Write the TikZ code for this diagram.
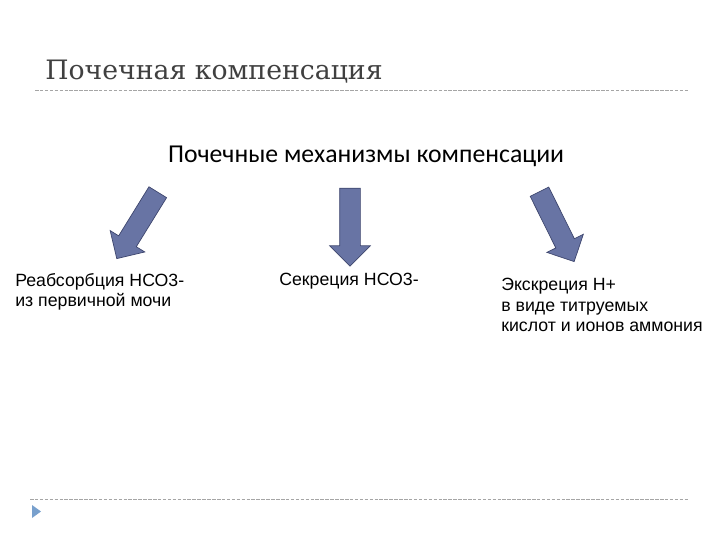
\documentclass[tikz,border=0pt]{standalone}
\usepackage{fontspec}
\setmainfont{Liberation Sans}
\newfontfamily\titlefont{DejaVu Serif}
\newfontfamily\subfont{Carlito}
\usetikzlibrary{shapes.arrows}
\definecolor{arrowblue}{RGB}{104, 116, 164}
\definecolor{arrowline}{RGB}{62, 70, 110}
\definecolor{titlegray}{RGB}{64, 64, 64}
\definecolor{rulegray}{RGB}{165, 165, 165}
\definecolor{bulletblue}{RGB}{120, 160, 205}

\begin{document}
\begin{tikzpicture}[x=0.025cm, y=-0.025cm]
            \tikzstyle{bigarrow} = [single arrow, draw=arrowline, fill=arrowblue, line width=0.5pt, minimum height=1.95cm, inner xsep=0pt, inner ysep=0.25cm, single arrow head extend=0.25cm, single arrow tip angle=90]
            \tikzstyle{label} = [inner sep=0pt, align=left, anchor=north west, font=\fontsize{12.6}{14.6}\selectfont]
            \tikzstyle{rule} = [rulegray, line width=0.6pt, dash pattern=on 2.5pt off 1pt]
            
            \useasboundingbox (0,0) rectangle (720,540);
            
            \node[inner sep=0pt, anchor=base west, text=titlegray, font=\titlefont\fontsize{19}{21}\selectfont] (title) at (45,79) {Почечная компенсация};
            \node[inner sep=0pt, anchor=base, font=\subfont\fontsize{18.3}{20}\selectfont] (mech) at (366,162) {Почечные механизмы компенсации};
            
            \node[bigarrow, rotate=238.3] (arrL) at (140,221) {};
            \node[bigarrow, rotate=270] (arrM) at (350,222) {};
            \node[bigarrow, rotate=296.4] (arrR) at (554.5,222) {};
            
            \node[label] (reab) at (15,273) {Реабсорбция НСО3-\\из первичной мочи};
            \node[label] (secr) at (279,273) {Секреция НСО3-};
            \node[label] (excr) at (501,278) {Экскреция Н+\\в виде титруемых\\кислот и ионов аммония};
            
            \draw[rule] (35,90) -- (688,90);
            \draw[rule] (30,499) -- (688,499);
            \fill[bulletblue] (32,505) -- (41,511.5) -- (32,518) -- cycle;
        \end{tikzpicture}
\end{document}
